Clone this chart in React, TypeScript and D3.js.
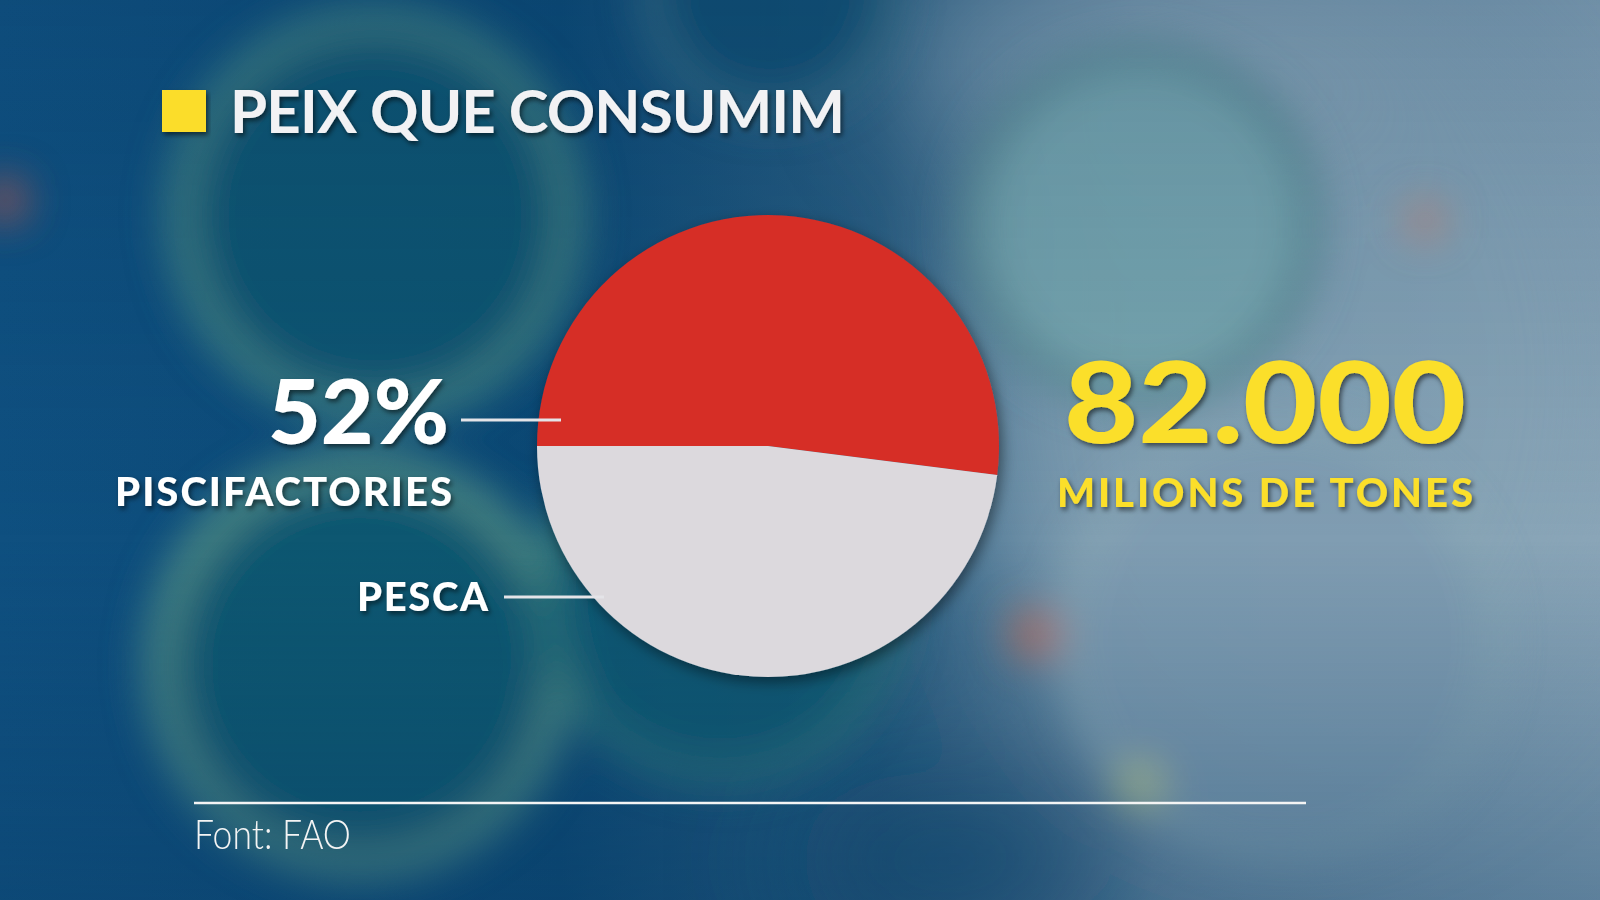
import React from "react";
import * as d3 from "d3";

const categories = ["PISCIFACTORIES", "PESCA"];
const shares = [52, 48];
const sliceColors = ["#d62d28", "#dcd9dd"];
const title = "PEIX QUE CONSUMIM";
const totalValue = "82.000";
const totalUnit = "MILIONS DE TONES";
const source = "Font: FAO";

const W = 1600;
const H = 900;

// decorative blurred background shapes (not data)
const rings = [
  { cx: 375, cy: 215, r: 195, fill: "#0b5670", stroke: "#4a8c84", sw: 28 },
  { cx: 360, cy: 665, r: 200, fill: "#0a5a70", stroke: "#5a9888", sw: 30 },
  { cx: 720, cy: 600, r: 175, fill: "#0c5a72", stroke: "#2f7a7c", sw: 22 },
  { cx: 770, cy: -10, r: 120, fill: "#0f4d72", stroke: "#3a7488", sw: 20 },
  { cx: 1140, cy: 225, r: 170, fill: "#78a9b0", stroke: "#56878f", sw: 26 },
  { cx: 1280, cy: 640, r: 210, fill: "#7f9db2", stroke: "#8aa8b6", sw: 20 },
];
const spots = [
  { cx: 5, cy: 200, r: 22, fill: "#c8584a" },
  { cx: 1425, cy: 220, r: 20, fill: "#c98a78" },
  { cx: 1035, cy: 635, r: 26, fill: "#c06a55" },
  { cx: 1140, cy: 785, r: 24, fill: "#c9d28a" },
];

export default function App() {
  const cx = 768;
  const cy = 446;
  const R = 231;
  const pie = d3
    .pie<number>()
    .sort(null)
    .startAngle(-Math.PI / 2)
    .endAngle((3 * Math.PI) / 2)(shares);
  const arc = d3.arc<d3.PieArcDatum<number>>().innerRadius(0).outerRadius(R);

  const font = "Lato, 'Open Sans', sans-serif";

  return (
    <svg
      width={W}
      height={H}
      viewBox={`0 0 ${W} ${H}`}
      style={{ position: "absolute", left: 0, top: 0, display: "block" }}
    >
      <defs>
        <linearGradient id="bgGrad" x1="0" y1="0" x2="1" y2="0">
          <stop offset="0" stopColor="#0f5080" />
          <stop offset="0.35" stopColor="#0b4874" />
          <stop offset="0.55" stopColor="#2a5d80" />
          <stop offset="0.72" stopColor="#6e8ea6" />
          <stop offset="1" stopColor="#8aa5b8" />
        </linearGradient>
        <linearGradient id="bgV" x1="0" y1="0" x2="0" y2="1">
          <stop offset="0" stopColor="#0a3c66" stopOpacity="0.2" />
          <stop offset="0.6" stopColor="#0a3c66" stopOpacity="0" />
          <stop offset="1" stopColor="#0a3c66" stopOpacity="0.35" />
        </linearGradient>
        <filter id="blur" x="-20%" y="-20%" width="140%" height="140%">
          <feGaussianBlur stdDeviation="20" />
        </filter>
        <filter id="blurBig" x="-50%" y="-50%" width="200%" height="200%">
          <feGaussianBlur stdDeviation="60" />
        </filter>
        <filter id="pieShadow" x="-20%" y="-20%" width="140%" height="140%">
          <feDropShadow dx="3" dy="5" stdDeviation="7" floodColor="#000" floodOpacity="0.45" />
        </filter>
        <filter id="txtShadow" x="-10%" y="-30%" width="120%" height="160%">
          <feDropShadow dx="2" dy="3" stdDeviation="2.5" floodColor="#000" floodOpacity="0.55" />
        </filter>
      </defs>

      <rect x={0} y={0} width={W} height={H} fill="url(#bgGrad)" />
      <g filter="url(#blurBig)">
        <ellipse cx={1300} cy={380} rx={330} ry={420} fill="#8aa7b8" opacity={0.7} />
        <ellipse cx={1150} cy={60} rx={260} ry={120} fill="#8da6b8" opacity={0.6} />
        <ellipse cx={950} cy={860} rx={160} ry={90} fill="#10496e" opacity={0.7} />
      </g>
      <g filter="url(#blur)">
        {rings.map((c, i) => (
          <circle key={i} cx={c.cx} cy={c.cy} r={c.r} fill={c.fill} stroke={c.stroke} strokeWidth={c.sw} opacity={0.85} />
        ))}
        {spots.map((s, i) => (
          <circle key={"s" + i} cx={s.cx} cy={s.cy} r={s.r} fill={s.fill} opacity={0.8} />
        ))}
      </g>
      <rect x={0} y={0} width={W} height={H} fill="url(#bgV)" />

      {/* Title */}
      <rect x={162} y={90} width={44} height={42} fill="#fbdd2a" filter="url(#txtShadow)" />
      <text
        x={230}
        y={133}
        fontFamily={font}
        fontWeight={700}
        fontSize={60}
        fill="#f2f2f4"
        textLength={615}
        lengthAdjust="spacing"
        filter="url(#txtShadow)"
      >
        {title}
      </text>

      {/* Pie */}
      <g transform={`translate(${cx},${cy})`} filter="url(#pieShadow)">
        {pie.map((d, i) => (
          <path key={i} d={arc(d) || ""} fill={sliceColors[i]} />
        ))}
      </g>

      {/* Left labels */}
      <text x={268} y={444} fontFamily={font} fontWeight={900} fontSize={90} fill="#ffffff"
        textLength={181} lengthAdjust="spacingAndGlyphs" filter="url(#txtShadow)">
        {shares[0] + "%"}
      </text>
      <line x1={461} x2={561} y1={420} y2={420} stroke="#e4e4e8" strokeWidth={3} />
      <text x={115} y={506} fontFamily={font} fontWeight={900} fontSize={40} fill="#ffffff"
        textLength={337} lengthAdjust="spacing" filter="url(#txtShadow)">
        {categories[0]}
      </text>
      <text x={357} y={611} fontFamily={font} fontWeight={900} fontSize={40} fill="#ffffff"
        textLength={131} lengthAdjust="spacing" filter="url(#txtShadow)">
        {categories[1]}
      </text>
      <line x1={504} x2={604} y1={597} y2={597} stroke="#e4e4e8" strokeWidth={3} />

      {/* Right total */}
      <text x={1064} y={443} fontFamily={font} fontWeight={900} fontSize={112} fill="#fbdf2c"
        textLength={402} lengthAdjust="spacingAndGlyphs" filter="url(#txtShadow)">
        {totalValue}
      </text>
      <text x={1057} y={507} fontFamily={font} fontWeight={900} fontSize={40} fill="#fbdf2c"
        textLength={416} lengthAdjust="spacing" filter="url(#txtShadow)">
        {totalUnit}
      </text>

      {/* Footer */}
      <line x1={194} x2={1306} y1={803} y2={803} stroke="#f4f4f4" strokeWidth={2.5} />
      <text x={194} y={849} fontFamily={font} fontWeight={300} fontSize={42} fill="#f4f4f4"
        textLength={157} lengthAdjust="spacingAndGlyphs">
        {source}
      </text>
    </svg>
  );
}
